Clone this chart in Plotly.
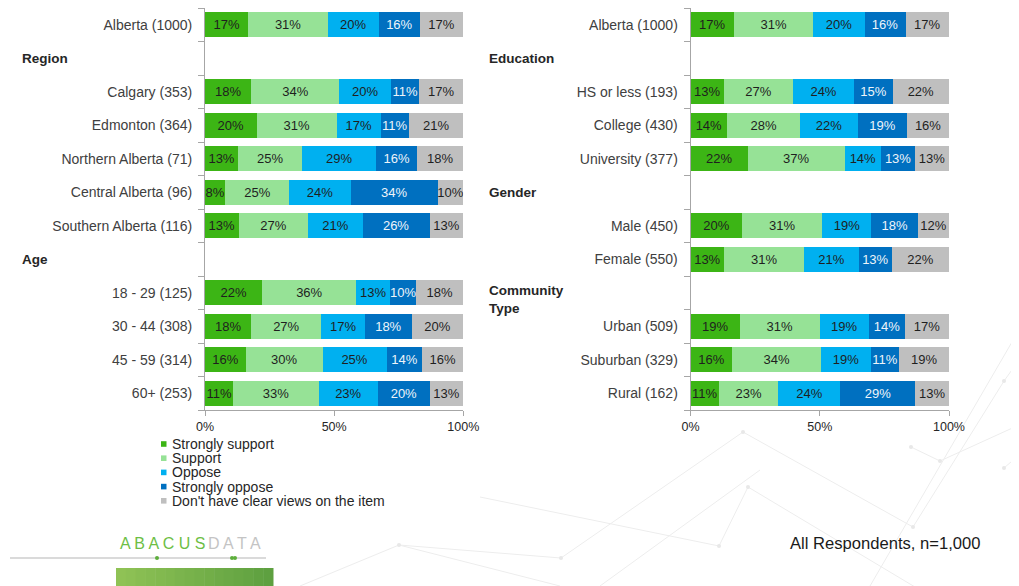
import plotly.graph_objects as go

W, H = 1019, 586
PAGE_OFFSET = 8  # the page body margin shifts the figure by 8px

# ---------------- data ----------------
series_names = ["Strongly support", "Support", "Oppose", "Strongly oppose",
                "Don't have clear views on the item"]
series_colors = ["#3CB515", "#96E296", "#00B0F0", "#0070C0", "#BFBFBF"]
text_colors = ["#1F1F1F", "#1F1F1F", "#1F1F1F", "#EEF4FA", "#1F1F1F"]

left_rows = ["Alberta (1000)", "Region", "Calgary (353)", "Edmonton (364)",
             "Northern Alberta (71)", "Central Alberta (96)", "Southern Alberta (116)",
             "Age", "18 - 29 (125)", "30 - 44 (308)", "45 - 59 (314)", "60+ (253)"]
left_headers = ["Region", "Age"]
left_strongly_support = [17, None, 18, 20, 13, 8, 13, None, 22, 18, 16, 11]
left_support = [31, None, 34, 31, 25, 25, 27, None, 36, 27, 30, 33]
left_oppose = [20, None, 20, 17, 29, 24, 21, None, 13, 17, 25, 23]
left_strongly_oppose = [16, None, 11, 11, 16, 34, 26, None, 10, 18, 14, 20]
left_no_view = [17, None, 17, 21, 18, 10, 13, None, 18, 20, 16, 13]

right_rows = ["Alberta (1000)", "Education", "HS or less (193)", "College (430)",
              "University (377)", "Gender", "Male (450)", "Female (550)",
              "Community Type", "Urban (509)", "Suburban (329)", "Rural (162)"]
right_headers = ["Education", "Gender", "Community Type"]
right_strongly_support = [17, None, 13, 14, 22, None, 20, 13, None, 19, 16, 11]
right_support = [31, None, 27, 28, 37, None, 31, 31, None, 31, 34, 23]
right_oppose = [20, None, 24, 22, 14, None, 19, 21, None, 19, 19, 24]
right_strongly_oppose = [16, None, 15, 19, 13, None, 18, 13, None, 14, 11, 29]
right_no_view = [17, None, 22, 16, 13, None, 12, 22, None, 17, 19, 13]

x_tick_vals = [0, 50, 100]
x_tick_text = ["0%", "50%", "100%"]
footnote = "All Respondents, n=1,000"

# ---------------- helpers ----------------
def px(x):
    return (x - PAGE_OFFSET) / W

def py(y):
    return 1 - (y - PAGE_OFFSET) / H

FONT = "Liberation Sans, Arial, sans-serif"
AXIS_GRAY = "#A6A6A6"

fig = go.Figure()

panels = [
    ("x", "y", left_rows, left_headers,
     [left_strongly_support, left_support, left_oppose, left_strongly_oppose, left_no_view]),
    ("x2", "y2", right_rows, right_headers,
     [right_strongly_support, right_support, right_oppose, right_strongly_oppose, right_no_view]),
]

for xa, ya, rows, headers, series in panels:
    for name, color, tcol, vals in zip(series_names, series_colors, text_colors, series):
        fig.add_trace(go.Bar(
            x=vals, y=rows, orientation="h", name=name,
            marker=dict(color=color, line=dict(width=0)),
            text=[f"{v}%" if v is not None else "" for v in vals],
            texttemplate="%{text}",
            textposition="inside", insidetextanchor="middle",
            textangle=0, constraintext="none",
            textfont=dict(family=FONT, size=13, color=tcol),
            xaxis=xa, yaxis=ya, showlegend=False,
            hovertemplate=name + ": %{text}<extra></extra>",
        ))

y_dom = [py(410), min(1.0, py(7.6))]

def yaxis_cfg(rows, headers):
    return dict(
        type="category", categoryorder="array", categoryarray=rows,
        autorange="reversed", domain=y_dom, automargin=False,
        tickmode="array", tickvals=rows,
        ticktext=["" if r in headers else r for r in rows],
        tickson="boundaries", ticks="outside", ticklen=6, tickcolor=AXIS_GRAY,
        showline=True, linecolor=AXIS_GRAY, linewidth=1,
        showgrid=False, zeroline=False,
        tickfont=dict(family=FONT, size=14, color="#404040"),
        ticklabelstandoff=9,
    )

def xaxis_cfg(dom, anchor):
    return dict(
        domain=dom, range=[0, 100], anchor=anchor, automargin=False,
        tickmode="array", tickvals=x_tick_vals, ticktext=x_tick_text,
        ticks="outside", ticklen=5, tickcolor=AXIS_GRAY,
        showline=True, linecolor=AXIS_GRAY, linewidth=1,
        showgrid=False, zeroline=False,
        tickfont=dict(family=FONT, size=12.5, color="#262626"),
    )

fig.update_layout(
    template="none",
    width=W, height=H, margin=dict(l=0, r=0, t=0, b=0, pad=0),
    paper_bgcolor="white", plot_bgcolor="rgba(0,0,0,0)",
    barmode="stack", barnorm="percent", bargap=0.255,
    showlegend=False,
    xaxis=xaxis_cfg([px(205), px(463.3)], "y"),
    yaxis=yaxis_cfg(left_rows, left_headers),
    xaxis2=xaxis_cfg([px(690.6), px(949)], "y2"),
    yaxis2=dict(yaxis_cfg(right_rows, right_headers), anchor="x2"),
    font=dict(family=FONT),
)
fig.layout.yaxis.anchor = "x"

annotations = []
shapes = []

# section headers (bold)
for yref, hx, headers in [("y", 20, left_headers), ("y2", 487, right_headers)]:
    for h in headers:
        label = "Community<br>Type" if h == "Community Type" else h
        annotations.append(dict(
            text=f"<b>{label}</b>", xref="paper", x=px(hx), xanchor="left",
            yref=yref, y=h, yanchor="middle", yshift=-7 if "<br>" in label else 0,
            showarrow=False, align="left",
            font=dict(family=FONT, size=13.5, color="#262626"),
        ))

# manual legend
leg_y = [444, 458.2, 472.4, 486.6, 500.8]
for name, color, ly in zip(series_names, series_colors, leg_y):
    shapes.append(dict(type="rect", xref="paper", yref="paper",
                       x0=px(161), x1=px(166.5), y0=py(ly + 2.8), y1=py(ly - 2.8),
                       fillcolor=color, line=dict(width=0)))
    annotations.append(dict(text=name, xref="paper", yref="paper",
                            x=px(169.5), y=py(ly), xanchor="left", yanchor="middle",
                            showarrow=False,
                            font=dict(family=FONT, size=14, color="#262626")))

# footnote
annotations.append(dict(text=footnote, xref="paper", yref="paper",
                        x=px(983), y=py(543.5), xanchor="right", yanchor="middle",
                        showarrow=False, font=dict(family=FONT, size=16.6, color="#1A1A1A")))

# logo
annotations.append(dict(text="A B A C U S", xref="paper", yref="paper",
                        x=px(118), y=py(543), xanchor="left", yanchor="middle",
                        showarrow=False, font=dict(family=FONT, size=16, color="#6DBE45")))
annotations.append(dict(text="D A T A", xref="paper", yref="paper",
                        x=px(206), y=py(543), xanchor="left", yanchor="middle",
                        showarrow=False, font=dict(family=FONT, size=16, color="#C4C4C4")))
shapes.append(dict(type="line", xref="paper", yref="paper",
                   x0=px(10), x1=px(266), y0=py(558), y1=py(558),
                   line=dict(color="#DADADA", width=2)))
for cx in [157, 232, 235]:
    shapes.append(dict(type="circle", xref="paper", yref="paper",
                       x0=px(cx - 2), x1=px(cx + 2), y0=py(560), y1=py(556),
                       fillcolor="#5DAE3B", line=dict(width=0)))
# gradient green block
n_strips = 16
x_start, x_end = 116, 273
c0, c1 = (0x8F, 0xC2, 0x55), (0x5E, 0xA0, 0x40)
for i in range(n_strips):
    t = i / (n_strips - 1)
    col = tuple(round(a + (b - a) * t) for a, b in zip(c0, c1))
    xa0 = x_start + (x_end - x_start) * i / n_strips
    xa1 = x_start + (x_end - x_start) * (i + 1) / n_strips + 0.5
    shapes.append(dict(type="rect", xref="paper", yref="paper",
                       x0=px(xa0), x1=px(xa1), y0=py(590), y1=py(568),
                       fillcolor="rgb(%d,%d,%d)" % col, line=dict(width=0)))

# faint decorative background network
bg_lines = [
    ((300, 586), (399, 545)), ((399, 545), (561, 558)), ((561, 558), (743, 432)),
    ((480, 497), (719, 546)), ((719, 546), (748, 487)), ((748, 487), (920, 590)),
    ((743, 432), (913, 527)), ((913, 527), (1004, 381)), ((911, 447), (940, 461)),
    ((940, 461), (1019, 425)), ((870, 586), (1019, 330)), ((1004, 468), (1019, 455)),
    ((600, 586), (760, 470)), ((399, 545), (560, 586)), ((1004, 381), (1019, 360)),
]
for (xa, ya_), (xb, yb) in bg_lines:
    shapes.append(dict(type="line", xref="paper", yref="paper", layer="below",
                       x0=px(xa), y0=py(ya_), x1=px(xb), y1=py(yb),
                       line=dict(color="#EDEDED", width=1)))
for (cx, cy) in [(399, 545), (561, 558), (719, 546), (748, 487), (743, 432),
                 (913, 527), (911, 447), (940, 461), (1004, 381), (1004, 468)]:
    shapes.append(dict(type="circle", xref="paper", yref="paper", layer="below",
                       x0=px(cx - 2), x1=px(cx + 2), y0=py(cy + 2), y1=py(cy - 2),
                       fillcolor="#E8E8E8", line=dict(width=0)))

fig.update_layout(annotations=annotations, shapes=shapes)
fig.write_html("out.html")
